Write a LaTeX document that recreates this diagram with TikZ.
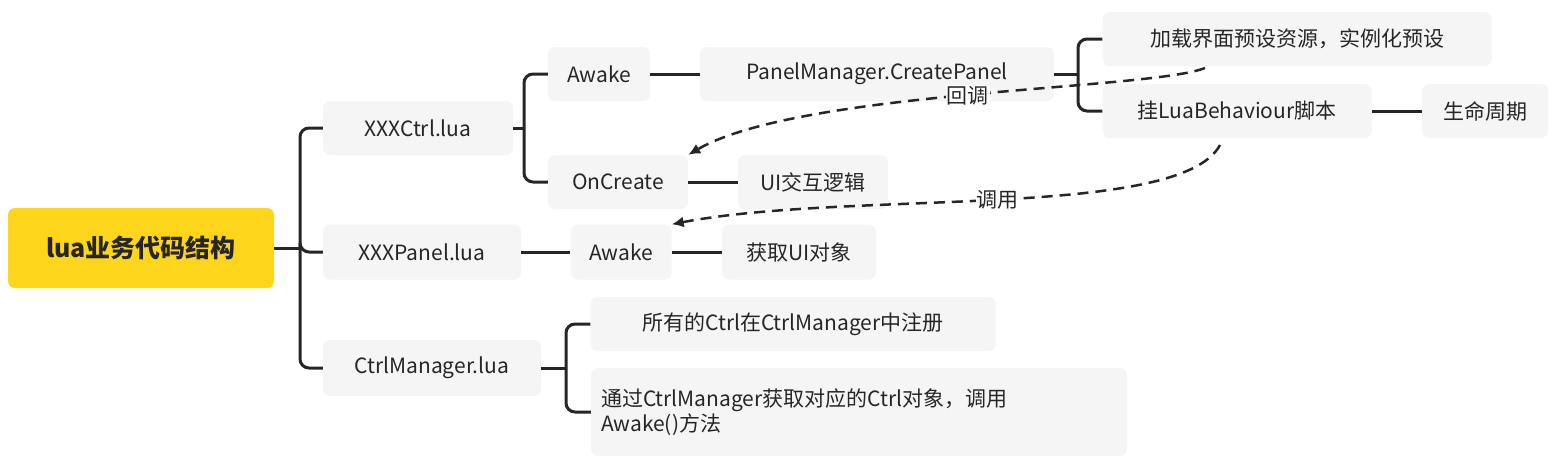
\documentclass[tikz,border=0pt]{standalone}
\usepackage{fontspec}
\usetikzlibrary{arrows.meta}
\setmainfont{Noto Sans CJK SC}
\begin{document}
\begin{tikzpicture}[x=1pt,y=-1pt,
  box/.style={fill=black!4,rounded corners=7pt,font=\fontsize{21}{25}\selectfont,inner sep=0pt,text=black!85},
  ln/.style={draw=black!85,line width=3pt,rounded corners=9pt},
  dsh/.style={draw=black!85,line width=2.5pt,dashed,dash pattern=on 11pt off 7pt,-{Latex[length=12pt,width=11pt]}},
  lab/.style={fill=white,inner sep=1pt,font=\fontsize{21}{25}\selectfont,text=black!85}]
\useasboundingbox (0,0) rectangle (1556,469);
\node[box,fill=yellow!70!orange!90,minimum width=266,minimum height=80,font=\fontsize{25}{30}\selectfont\bfseries] (root) at (141,248) {lua业务代码结构};
\node[box,minimum width=190,minimum height=54] (ctrl) at (418,128) {XXXCtrl.lua};
\node[box,minimum width=198,minimum height=55] (panel) at (422,252) {XXXPanel.lua};
\node[box,minimum width=218,minimum height=56] (mgr) at (432,368) {CtrlManager.lua};
\node[box,minimum width=102,minimum height=54] (awake) at (599,74) {Awake};
\node[box,minimum width=140,minimum height=54] (oncreate) at (618,182) {OnCreate};
\node[box,minimum width=354,minimum height=54] (pm) at (877,74) {PanelManager.CreatePanel};
\node[box,minimum width=389,minimum height=54] (load) at (1297,39) {加载界面预设资源，实例化预设};
\node[box,minimum width=269,minimum height=54] (lb) at (1237,111) {挂LuaBehaviour脚本};
\node[box,minimum width=126,minimum height=54] (life) at (1485,111) {生命周期};
\node[box,minimum width=150,minimum height=54] (ui) at (813,182) {UI交互逻辑};
\node[box,minimum width=101,minimum height=55] (pawake) at (621,252) {Awake};
\node[box,minimum width=154,minimum height=55] (getui) at (799,252) {获取UI对象};
\node[box,minimum width=405,minimum height=54] (reg) at (793,324) {所有的Ctrl在CtrlManager中注册};
\node[box,minimum width=536,minimum height=88,align=left,text width=516] (via) at (859,412) {通过CtrlManager获取对应的Ctrl对象，调用\\Awake()方法};

\coordinate (j0) at (300,248);
\draw[ln] (root.east) -- (j0);
\foreach \c in {ctrl,panel,mgr} \draw[ln] (j0) |- (\c.west);
\coordinate (j1) at (524,128);
\draw[ln] (ctrl.east) -- (j1);
\foreach \c in {awake,oncreate} \draw[ln] (j1) |- (\c.west);
\draw[ln] (awake.east) -- (pm.west);
\coordinate (j2) at (1078,74);
\draw[ln] (pm.east) -- (j2);
\foreach \c in {load,lb} \draw[ln] (j2) |- (\c.west);
\draw[ln] (lb.east) -- (life.west);
\draw[ln] (oncreate.east) -- (ui.west);
\draw[ln] (panel.east) -- (pawake.west);
\draw[ln] (pawake.east) -- (getui.west);
\coordinate (j3) at (566,368);
\draw[ln] (mgr.east) -- (j3);
\draw[ln] (j3) |- (reg.west);
\draw[ln] (j3) |- (via.west);

\coordinate (s1) at (1205,68);
\coordinate (s2) at (1220,145);
\draw[dsh] (s1) .. controls (1150,90) and (800,90) .. node[lab,pos=0.5]{回调} (oncreate.north east);
\draw[dsh] (s2) .. controls (1180,220) and (850,190) .. node[lab,pos=0.5]{调用} (pawake.north east);
\end{tikzpicture}
\end{document}
